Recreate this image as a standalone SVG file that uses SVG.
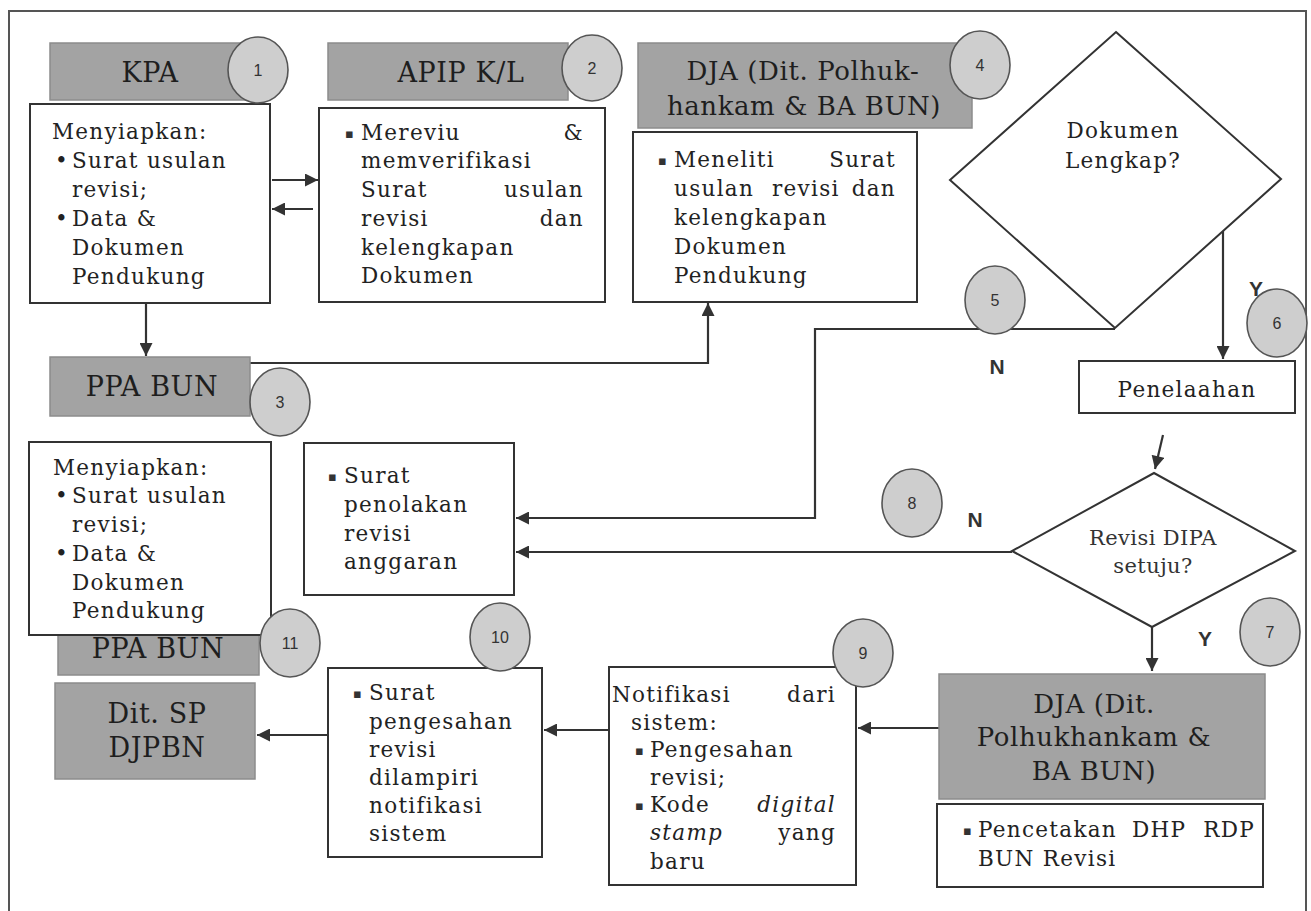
<svg xmlns="http://www.w3.org/2000/svg" width="1311" height="911" viewBox="0 0 1311 911">
<defs>
<marker id="ah" viewBox="0 0 10 10" refX="10" refY="5" markerWidth="14" markerHeight="13" markerUnits="userSpaceOnUse" orient="auto">
<path d="M0,0 L10,5 L0,10 z" fill="#333"/>
</marker>
<style>
.t{font-family:"DejaVu Serif","Liberation Serif",serif;font-size:21.5px;letter-spacing:1.3px;fill:#222}
.sq{font-family:"DejaVu Sans",sans-serif;font-size:13px;fill:#333}
.ti{font-style:italic}
.e{text-anchor:end}
.c{text-anchor:middle}
.h{font-family:"DejaVu Serif","Liberation Serif",serif;font-size:27px;letter-spacing:0.6px;fill:#1e1e1e;text-anchor:middle}
.d{font-family:"DejaVu Serif","Liberation Serif",serif;font-size:21px;letter-spacing:0.4px;fill:#333;text-anchor:middle}
.num{font-family:"Liberation Sans",Arial,sans-serif;font-size:16px;fill:#333;text-anchor:middle}
.yn{font-family:"Liberation Sans",Arial,sans-serif;font-weight:bold;font-size:21px;fill:#333;text-anchor:middle}
.box{fill:#fff;stroke:#333;stroke-width:2}
.hdr{fill:#a3a3a3;stroke:#8c8c8c;stroke-width:1.5}
.circ{fill:#cecece;stroke:#555;stroke-width:1.6}
.ln{fill:none;stroke:#333;stroke-width:2.2}
.frame{fill:none;stroke:#555;stroke-width:2}
</style>
</defs>
<rect width="1311" height="911" fill="#fff"/>
<path class="frame" d="M9,911 V11 H1306 V911"/>

<g id="connectors">
<line class="ln" x1="272" y1="180" x2="318" y2="180" marker-end="url(#ah)"/>
<line class="ln" x1="313" y1="209" x2="272" y2="209" marker-end="url(#ah)"/>
<line class="ln" x1="146" y1="303" x2="146" y2="356" marker-end="url(#ah)"/>
<path class="ln" d="M250,363 H708 V303" marker-end="url(#ah)"/>
<line class="ln" x1="1223" y1="231" x2="1223" y2="359" marker-end="url(#ah)"/>
<path class="ln" d="M1115,329 H815 V518 H516" marker-end="url(#ah)"/>
<line class="ln" x1="1163" y1="435" x2="1155" y2="469" marker-end="url(#ah)"/>
<line class="ln" x1="1012" y1="552" x2="516" y2="552" marker-end="url(#ah)"/>
<line class="ln" x1="1152" y1="627" x2="1152" y2="671" marker-end="url(#ah)"/>
<line class="ln" x1="939" y1="728" x2="858" y2="728" marker-end="url(#ah)"/>
<line class="ln" x1="609" y1="730" x2="544" y2="730" marker-end="url(#ah)"/>
<line class="ln" x1="328" y1="735" x2="257" y2="735" marker-end="url(#ah)"/>
<text class="yn" x="1256" y="296">Y</text>
<text class="yn" x="997" y="374">N</text>
<text class="yn" x="975" y="527">N</text>
<text class="yn" x="1205" y="646">Y</text>
</g>

<g id="node-kpa">
<rect class="hdr" x="50" y="43" width="195" height="57"/>
<text class="h" x="150" y="82">KPA</text>
<rect class="box" x="30" y="104" width="240" height="199"/>
<text class="t" x="52" y="139">Menyiapkan:</text>
<text class="t" x="55" y="168">•</text><text class="t" x="72" y="168">Surat usulan</text>
<text class="t" x="72" y="197">revisi;</text>
<text class="t" x="55" y="226">•</text><text class="t" x="72" y="226">Data &amp;</text>
<text class="t" x="72" y="255">Dokumen</text>
<text class="t" x="72" y="284">Pendukung</text>
</g>

<g id="node-apip">
<rect class="hdr" x="328" y="43" width="240" height="57"/>
<text class="h" x="461" y="82">APIP K/L</text>
<rect class="box" x="319" y="108" width="286" height="194"/>
<text class="sq" x="345" y="138">▪</text><text class="t" x="361" y="140">Mereviu</text><text class="t e" x="584" y="140">&amp;</text>
<text class="t" x="361" y="168">memverifikasi</text>
<text class="t" x="361" y="197">Surat</text><text class="t e" x="584" y="197">usulan</text>
<text class="t" x="361" y="226">revisi</text><text class="t e" x="584" y="226">dan</text>
<text class="t" x="361" y="255">kelengkapan</text>
<text class="t" x="361" y="283">Dokumen</text>
</g>

<g id="node-dja-top">
<rect class="hdr" x="638" y="43" width="334" height="85"/>
<text class="h" x="803" y="80" style="font-size:26px">DJA (Dit. Polhuk-</text>
<text class="h" x="804" y="115" style="font-size:26px">hankam &amp; BA BUN)</text>
<rect class="box" x="633" y="132" width="284" height="170"/>
<text class="sq" x="658" y="165">▪</text><text class="t" x="674" y="167">Meneliti</text><text class="t e" x="896" y="167">Surat</text>
<text class="t" x="674" y="196">usulan</text><text class="t" x="772" y="196">revisi</text><text class="t e" x="896" y="196">dan</text>
<text class="t" x="674" y="225">kelengkapan</text>
<text class="t" x="674" y="254">Dokumen</text>
<text class="t" x="674" y="283">Pendukung</text>
</g>

<g id="node-dokumen-lengkap">
<polygon points="1116,32 1281,179 1115,328 950,180" fill="#fff" stroke="#333" stroke-width="2"/>
<text class="t c" x="1123" y="138">Dokumen</text>
<text class="t c" x="1123" y="168">Lengkap?</text>
</g>

<g id="node-ppa-bun">
<rect class="hdr" x="50" y="357" width="200" height="59"/>
<text class="h" x="152" y="396">PPA BUN</text>
</g>

<g id="node-penelaahan">
<rect class="box" x="1079" y="361" width="216" height="52"/>
<text class="t c" x="1187" y="397">Penelaahan</text>
</g>

<g id="node-revisi-dipa">
<polygon points="1154,473 1295,551 1152,627 1012,551" fill="#fff" stroke="#333" stroke-width="2"/>
<text class="d" x="1153" y="545">Revisi DIPA</text>
<text class="d" x="1153" y="573">setuju?</text>
</g>

<g id="node-penolakan">
<rect class="box" x="304" y="443" width="210" height="152"/>
<text class="sq" x="328" y="481">▪</text><text class="t" x="344" y="483">Surat</text>
<text class="t" x="344" y="512">penolakan</text>
<text class="t" x="344" y="541">revisi</text>
<text class="t" x="344" y="569">anggaran</text>
</g>

<g id="node-ppa-bun-11">
<rect class="hdr" x="58" y="605" width="201" height="70"/>
<text class="h" x="158" y="658">PPA BUN</text>
</g>

<g id="node-menyiapkan-2">
<rect class="box" x="29" y="442" width="242" height="193"/>
<text class="t" x="53" y="475">Menyiapkan:</text>
<text class="t" x="55" y="503">•</text><text class="t" x="72" y="503">Surat usulan</text>
<text class="t" x="72" y="532">revisi;</text>
<text class="t" x="55" y="561">•</text><text class="t" x="72" y="561">Data &amp;</text>
<text class="t" x="72" y="590">Dokumen</text>
<text class="t" x="72" y="618">Pendukung</text>
</g>

<g id="node-dit-sp">
<rect class="hdr" x="55" y="683" width="200" height="96"/>
<text class="h" x="157" y="723">Dit. SP</text>
<text class="h" x="157" y="757">DJPBN</text>
</g>

<g id="node-pengesahan">
<rect class="box" x="328" y="668" width="214" height="189"/>
<text class="sq" x="353" y="698">▪</text><text class="t" x="369" y="700">Surat</text>
<text class="t" x="369" y="729">pengesahan</text>
<text class="t" x="369" y="757">revisi</text>
<text class="t" x="369" y="785">dilampiri</text>
<text class="t" x="369" y="813">notifikasi</text>
<text class="t" x="369" y="841">sistem</text>
</g>

<g id="node-notifikasi">
<rect class="box" x="609" y="667" width="247" height="218"/>
<text class="t" x="612" y="702">Notifikasi</text><text class="t e" x="836" y="702">dari</text>
<text class="t" x="631" y="730">sistem:</text>
<text class="sq" x="635" y="755">▪</text><text class="t" x="650" y="757">Pengesahan</text>
<text class="t" x="650" y="785">revisi;</text>
<text class="sq" x="635" y="810">▪</text><text class="t" x="650" y="812">Kode</text><text class="t ti e" x="836" y="812">digital</text>
<text class="t ti" x="650" y="840">stamp</text><text class="t e" x="836" y="840">yang</text>
<text class="t" x="650" y="869">baru</text>
</g>

<g id="node-dja-bottom">
<rect class="hdr" x="939" y="674" width="326" height="125"/>
<text class="h" x="1094" y="713" style="font-size:26px">DJA (Dit.</text>
<text class="h" x="1094" y="746" style="font-size:26px">Polhukhankam &amp;</text>
<text class="h" x="1094" y="780" style="font-size:26px">BA BUN)</text>
<rect class="box" x="937" y="804" width="326" height="83"/>
<text class="sq" x="963" y="835">▪</text><text class="t" x="978" y="837">Pencetakan</text><text class="t" x="1132" y="837">DHP</text><text class="t e" x="1255" y="837">RDP</text>
<text class="t" x="978" y="866">BUN Revisi</text>
</g>

<g id="markers">
<g id="c1"><ellipse class="circ" cx="258" cy="70" rx="30" ry="33"/><text class="num" x="258" y="76">1</text></g>
<g id="c2"><ellipse class="circ" cx="592" cy="68" rx="30" ry="33"/><text class="num" x="592" y="74">2</text></g>
<g id="c3"><ellipse class="circ" cx="280" cy="402" rx="30" ry="34"/><text class="num" x="280" y="408">3</text></g>
<g id="c4"><ellipse class="circ" cx="980" cy="65" rx="30" ry="34"/><text class="num" x="980" y="71">4</text></g>
<g id="c5"><ellipse class="circ" cx="995" cy="300" rx="30" ry="34"/><text class="num" x="995" y="306">5</text></g>
<g id="c6"><ellipse class="circ" cx="1277" cy="323" rx="30" ry="34"/><text class="num" x="1277" y="329">6</text></g>
<g id="c7"><ellipse class="circ" cx="1270" cy="632" rx="30" ry="34"/><text class="num" x="1270" y="638">7</text></g>
<g id="c8"><ellipse class="circ" cx="912" cy="503" rx="30" ry="34"/><text class="num" x="912" y="509">8</text></g>
<g id="c9"><ellipse class="circ" cx="863" cy="653" rx="30" ry="34"/><text class="num" x="863" y="659">9</text></g>
<g id="c10"><ellipse class="circ" cx="500" cy="637" rx="30" ry="34"/><text class="num" x="500" y="643">10</text></g>
<g id="c11"><ellipse class="circ" cx="290" cy="643" rx="30" ry="34"/><text class="num" x="290" y="649">11</text></g>
</g>
</svg>
